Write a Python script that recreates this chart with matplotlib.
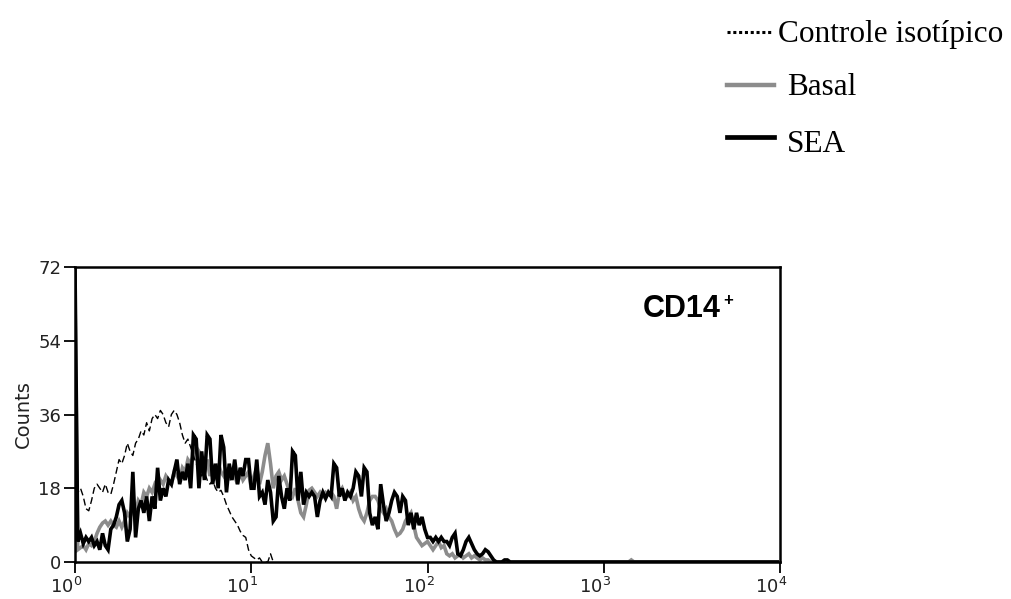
import numpy as np
import matplotlib
matplotlib.use("Agg")
import matplotlib.pyplot as plt
import matplotlib.transforms as mtransforms
from matplotlib.lines import Line2D

plt.rcParams['mathtext.fontset'] = 'custom'
plt.rcParams['mathtext.rm'] = 'DejaVu Sans'
plt.rcParams['mathtext.it'] = 'DejaVu Sans'

# ---- data (counts per channel, 64 channels per decade) ----
channels_per_decade = 64
n_channels = 256

control_counts = [18, 17, 18, 16, 13, 12.5, 15, 18, 19, 18, 17, 19, 17, 16.5, 19, 22,
                  25, 24, 26, 29, 27, 26, 29, 30, 32, 31, 34, 32, 35, 36, 35, 37,
                  36, 34, 33, 36, 37, 36, 34, 31, 29, 30, 28, 26, 24, 23, 21, 22,
                  20, 19, 20, 18, 17, 17.5, 16, 14, 12.5, 11, 10, 9, 7.5, 6.5, 6, 3,
                  1.5, 1, 0.5, 1, 0, 0, 0, 2, 0]

sea_counts = [72, 5, 7, 4.5, 6, 5, 6, 4, 5, 3, 7, 4, 3, 8, 9, 11,
              14, 15, 12, 5, 8, 22, 6, 13, 15, 12, 16, 10, 16, 13, 23, 15,
              18, 16, 20, 19, 22, 25, 19, 22, 20, 24, 18, 31, 30, 18, 27, 20,
              31, 30, 19, 24, 18, 31, 28, 17, 24, 20, 25, 19, 23, 21, 25, 25,
              18, 18, 25, 16, 17, 14, 20, 17, 10, 11, 21, 16, 13, 18, 15, 27,
              26, 15, 22, 14, 17, 16, 17, 16, 11, 15, 17, 15.5, 17, 16, 24, 23,
              16, 18, 15, 17, 16, 18, 22, 21, 16, 23, 22, 12, 9, 11, 8, 19,
              14, 10, 12, 15, 17, 16, 12, 16, 15, 9, 12, 8, 12, 9, 11, 8,
              6, 6, 5, 6, 5, 6, 5, 5, 4, 6, 7, 2, 1.5, 3, 5, 6,
              4.5, 3, 2, 1.5, 2, 3, 2.5, 1.5, 0.5, 0, 0, 0, 0.5, 0.5, 0]

basal_counts = [65, 3, 3.5, 4, 3, 4.5, 4, 5, 7, 8.5, 9.5, 10, 9, 10, 9, 8.5,
                10, 8.5, 10, 12, 11, 13, 12, 15, 14, 17, 16, 18, 17, 19, 18, 20,
                19, 21, 20, 19, 22, 21, 20, 23, 22, 25, 24, 26, 28, 27, 24, 22,
                25, 21, 23, 20, 24, 22, 21, 23, 20, 22, 21, 19, 22, 20, 21, 22,
                18, 21, 23, 19, 22, 26, 29, 24, 18, 21, 22, 20, 21, 19, 17, 16,
                18, 15, 12, 11, 14, 17.5, 18, 17, 16, 17, 16, 17, 16.5, 17, 16, 13,
                17, 18, 16, 16, 17, 15, 16, 13, 11, 10, 12, 15, 16, 16, 15, 13,
                12, 13, 11, 10, 8, 6.5, 7, 8, 10, 11, 12, 9, 6, 5, 4, 4.5,
                5, 4, 3, 4, 5, 3.5, 4, 2, 1.5, 2, 1, 1.5, 2, 1, 1.5, 2,
                1, 1.5, 1, 0.5, 1, 0.5, 0.5, 0]
basal_blip_channel = 202
basal_blip_count = 0.5

series_labels = ["Controle isotípico", "Basal", "SEA"]
y_ticks = [0, 18, 36, 54, 72]
x_ticks = [1, 10, 100, 1000, 10000]
x_tick_labels = [r"$10^{0}$", r"$10^{1}$", r"$10^{2}$", r"$10^{3}$", r"$10^{4}$"]


def full_series(vals):
    arr = np.zeros(n_channels)
    arr[:len(vals)] = vals
    return arr


ch = np.arange(n_channels)
xvals = 10.0 ** (ch / channels_per_decade)

control = full_series(control_counts)
sea = full_series(sea_counts)
basal = full_series(basal_counts)
basal[basal_blip_channel] = basal_blip_count

W, H = 1011, 599
fig = plt.figure(figsize=(W / 100, H / 100), dpi=100)
ax = fig.add_axes([75 / W, 1 - 562 / H, 705 / W, 295 / H])

nc = len(control_counts)
ax.plot(xvals[:nc], control[:nc], color='black', lw=1.0, ls=(0, (5, 2.5)), zorder=3)
ax.plot(xvals, basal, color='#8c8c8c', lw=2.6, zorder=2, solid_joinstyle='miter')
ax.plot(xvals, sea, color='black', lw=2.6, zorder=4, solid_joinstyle='miter')

ax.set_xscale('log')
ax.set_xlim(1, 10000)
ax.set_ylim(0, 72)
ax.set_xticks(x_ticks)
ax.set_xticklabels(x_tick_labels)
ax.xaxis.set_minor_locator(matplotlib.ticker.NullLocator())
ax.set_yticks(y_ticks)
ax.tick_params(axis='both', direction='out', length=8, width=1.3, colors='black',
               labelsize=13, labelcolor='#222222')
ax.tick_params(axis='x', pad=3)
ax.tick_params(axis='y', pad=2)
for lab in ax.get_yticklabels():
    lab.set_fontfamily('DejaVu Sans')
shift = mtransforms.ScaledTranslation(-9 / 100, 0, fig.dpi_scale_trans)
for lab in ax.get_xticklabels():
    lab.set_transform(lab.get_transform() + shift)
for sp in ax.spines.values():
    sp.set_linewidth(1.8)
ax.set_ylabel("Counts", fontsize=14, family='DejaVu Sans', color='#222222', labelpad=4)

# CD14+ annotation
fig.text(643 / W, 1 - 317 / H, "CD14", fontsize=22, fontweight='bold',
         family='Liberation Sans', ha='left', va='baseline')
fig.text(723 / W, 1 - 305 / H, "+", fontsize=12, fontweight='bold',
         family='Liberation Sans', ha='left', va='baseline')

# legend (drawn manually)
leg_font = {'family': 'Liberation Serif', 'size': 22.5}
fig.add_artist(Line2D([727 / W, 772 / W], [1 - 32 / H, 1 - 32 / H], color='black',
                      lw=2.2, ls=(0, (1.0, 0.9)), solid_capstyle='butt', dash_capstyle='butt'))
fig.add_artist(Line2D([727 / W, 774 / W], [1 - 85 / H, 1 - 85 / H], color='#8c8c8c', lw=3.2))
fig.add_artist(Line2D([727 / W, 774 / W], [1 - 137 / H, 1 - 137 / H], color='black', lw=3.4))
fig.text(778 / W, 1 - 42 / H, series_labels[0], ha='left', va='baseline', **leg_font)
fig.text(787 / W, 1 - 95 / H, series_labels[1], ha='left', va='baseline', **leg_font)
fig.text(787 / W, 1 - 152 / H, series_labels[2], ha='left', va='baseline', **leg_font)

fig.savefig("out.png", dpi=100)
